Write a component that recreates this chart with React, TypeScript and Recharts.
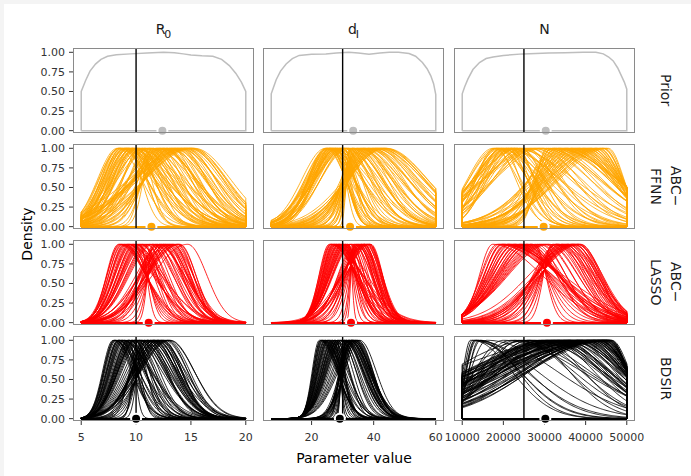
import React from 'react';
import { LineChart, Line, XAxis, YAxis, ReferenceLine, ReferenceDot } from 'recharts';

type Curve = [number, number, number]; // [mode, left spread, right spread]

const parameterNames = ['R', 'd', 'N'];
const parameterSubs = ['0', 'I', ''];
const methodLabels = [['Prior'], ['ABC−', 'FFNN'], ['ABC−', 'LASSO'], ['BDSIR']];
const methodColors = ['#bebebe', '#ffa500', '#ff0000', '#000000'];
const trueValues = [10, 30, 25000];
const parameterRanges: [number, number][] = [[5, 20], [7, 60], [10000, 50000]];
const xTickValues = [[5, 10, 15, 20], [20, 40, 60], [10000, 20000, 30000, 40000, 50000]];
const yTickValues = [0, 0.25, 0.5, 0.75, 1];

const pointPrior = [12.4, 33.4, 30300];
const pointFFNN = [11.4, 32.4, 29800];
const pointLASSO = [11.15, 32.7, 30600];
const pointBDSIR = [10.0, 29.1, 30200];

const priorR0X = [5, 5.4, 5.8, 6.3, 6.8, 7.4, 8.2, 9.5, 11, 12.5, 13.5, 14.3, 15, 16, 17, 17.8, 18.5, 19.1, 19.6, 20];
const priorR0Y = [0.5, 0.64, 0.76, 0.85, 0.91, 0.95, 0.97, 0.98, 0.99, 1.0, 0.995, 0.98, 0.965, 0.955, 0.95, 0.91, 0.83, 0.73, 0.62, 0.5];
const priorDIX = [7, 7.8, 8.6, 10, 11.8, 13.8, 16, 20, 24.6, 28, 32, 35, 38.5, 42, 45, 48, 51.4, 53.5, 55.7, 57.2, 58.4, 59.3, 60];
const priorDIY = [0.47, 0.56, 0.65, 0.76, 0.85, 0.92, 0.96, 0.975, 0.98, 0.99, 1.0, 0.99, 0.975, 0.99, 1.0, 1.0, 0.985, 0.95, 0.87, 0.79, 0.7, 0.6, 0.46];
const priorNX = [10000, 10600, 11400, 12600, 14200, 15800, 17500, 20000, 24800, 31000, 35000, 39400, 42500, 44300, 45600, 46700, 47800, 48700, 49400, 50000];
const priorNY = [0.47, 0.56, 0.66, 0.78, 0.87, 0.92, 0.94, 0.96, 0.98, 0.99, 0.995, 1.0, 1.0, 0.98, 0.94, 0.89, 0.8, 0.7, 0.62, 0.53];

const ffnnR0: Curve[] = [
  [8.3, 1.8, 2.2], [8.4, 1.6, 3.0], [8.5, 1.9, 2.5], [8.6, 1.5, 3.6], [8.7, 1.7, 2.3], [8.8, 1.95, 2.9], [8.9, 1.6, 2.1],
  [9.0, 1.8, 3.3], [9.1, 1.55, 2.6], [9.25, 1.9, 1.25], [9.3, 1.7, 2.9], [9.4, 2.0, 1.5], [9.5, 1.6, 3.5], [9.6, 1.9, 2.0],
  [9.7, 2.2, 1.3], [9.8, 1.7, 2.7], [9.9, 2.1, 1.8], [10.0, 1.9, 3.0], [10.1, 2.3, 1.6], [10.2, 2.0, 2.4], [10.3, 2.4, 1.1],
  [8.55, 1.75, 4.0], [9.15, 2.05, 4.2], [9.65, 1.8, 3.9],
  [11.2, 0.8, 2.4], [11.45, 0.79, 2.9], [11.6, 1.4, 2.2], [11.8, 1.2, 3.1], [12.0, 2.2, 2.6], [12.2, 1.6, 2.0], [12.4, 2.6, 3.0],
  [12.5, 1.8, 2.5], [12.7, 3.0, 2.8], [12.8, 2.1, 2.2], [13.0, 3.4, 3.2], [13.1, 2.3, 2.6], [13.3, 2.6, 3.3], [13.4, 3.6, 2.4],
  [13.6, 2.8, 2.9], [13.7, 4.0, 3.1], [13.9, 3.1, 2.5], [14.0, 4.2, 3.3], [14.2, 3.4, 2.7], [14.3, 4.5, 3.0], [14.5, 3.7, 3.2],
  [14.6, 4.6, 2.6], [14.8, 3.9, 3.1], [14.9, 5.0, 3.3], [15.0, 4.2, 2.9], [15.1, 4.8, 3.2], [15.3, 4.5, 3.3], [13.2, 2.5, 2.1],
  [12.1, 1.9, 3.4], [14.1, 3.3, 2.3],
  [10.4, 1.6, 2.0], [10.5, 2.2, 2.8], [10.6, 1.9, 1.6], [10.7, 2.6, 3.2], [10.8, 2.0, 2.4], [10.9, 2.9, 1.9], [11.0, 1.7, 3.5],
  [11.1, 2.4, 2.2], [11.3, 3.0, 2.7], [11.4, 2.1, 3.8], [8.9, 1.9, 3.8], [9.35, 2.1, 3.4], [9.75, 2.3, 4.4], [10.15, 2.5, 3.6],
  [11.9, 2.6, 3.6], [12.3, 3.1, 3.1], [12.6, 3.3, 2.7], [12.9, 2.9, 3.4], [13.5, 4.1, 2.8], [14.4, 4.4, 2.9], [15.2, 5.2, 3.0],
  [14.7, 5.3, 3.3], [13.8, 3.8, 3.6], [8.45, 1.8, 3.3], [9.05, 2.1, 2.9],
];
const ffnnDI: Curve[] = [
  [24.5, 7.6, 6.5], [24.8, 6.0, 9.0], [25.1, 7.2, 5.8], [25.4, 6.4, 8.0], [25.7, 7.8, 6.0], [26.0, 6.8, 5.0], [26.3, 8.0, 7.5],
  [26.6, 7.0, 4.5], [26.9, 8.3, 6.8], [27.2, 7.4, 4.0], [27.5, 8.5, 5.5], [27.8, 7.6, 3.6], [28.1, 8.7, 6.0], [28.4, 7.9, 3.3],
  [28.6, 8.2, 2.45], [28.9, 8.9, 4.8], [29.2, 8.0, 3.0], [29.5, 9.0, 5.2], [29.8, 8.4, 2.8], [30.1, 9.2, 4.0], [30.4, 8.6, 3.4],
  [25.9, 5.8, 10.0], [27.6, 6.6, 9.0],
  [32.2, 1.0, 8.0], [32.6, 1.6, 10.0], [33.0, 2.2, 7.5], [33.4, 1.9, 11.0], [33.8, 3.0, 9.0], [34.2, 2.7, 12.0], [34.8, 3.18, 8.5],
  [35.2, 4.5, 10.5], [35.7, 4.0, 13.0], [36.2, 5.6, 9.5], [36.7, 5.0, 12.0], [37.2, 6.5, 10.0], [37.7, 5.9, 13.5], [38.2, 7.3, 11.0],
  [38.7, 6.8, 14.0], [39.2, 8.2, 12.0], [39.7, 7.7, 10.0], [40.2, 9.0, 13.0], [40.7, 8.6, 11.5], [41.2, 10.0, 12.5], [41.7, 9.5, 14.0],
  [42.2, 10.8, 12.0], [42.8, 10.5, 13.5], [43.4, 11.5, 13.8], [44.0, 12.5, 13.3], [36.5, 7.0, 8.0],
  [30.6, 9.5, 6.0], [30.9, 8.0, 8.5], [31.2, 10.0, 5.0], [31.5, 8.6, 9.5], [31.8, 10.5, 7.0], [32.0, 9.0, 11.0],
  [29.0, 9.8, 7.5], [29.9, 10.2, 9.0], [30.3, 8.2, 11.5], [33.2, 2.8, 12.5], [34.5, 4.0, 13.5], [35.5, 5.5, 11.0],
  [36.9, 6.5, 14.0], [38.4, 8.0, 12.5], [39.9, 9.3, 14.5], [41.0, 10.0, 14.8], [42.5, 11.5, 14.0], [43.7, 13.0, 12.5],
  [25.3, 6.0, 11.0], [26.2, 5.5, 12.5], [27.0, 6.2, 10.5], [28.0, 7.0, 12.0], [24.7, 5.8, 7.5], [33.0, 3.4, 9.5],
];
const ffnnN: Curve[] = [
  [17500, 6200, 6000], [17800, 4500, 9000], [18100, 6500, 4900], [18400, 5000, 7500], [18700, 7000, 5500], [19000, 4200, 10000],
  [19300, 6800, 6500], [19600, 5500, 8000], [19970, 7000, 4030], [20300, 4800, 9500], [20600, 8000, 5200], [20900, 6000, 7000],
  [21200, 8600, 4600], [21500, 5500, 11000], [21800, 9200, 6000], [22100, 7000, 4200], [22400, 9800, 7500], [22700, 6500, 5000],
  [23000, 10000, 9000], [23400, 8000, 4000], [23800, 10500, 6500], [24200, 7500, 5500], [24600, 11500, 8000],
  [30500, 2500, 13000], [31000, 3200, 11000], [31500, 3100, 14500], [32000, 4500, 12000], [32500, 3700, 15000], [33000, 5500, 12500],
  [33450, 4290, 13500], [34000, 6000, 11500], [34500, 5000, 13000], [35000, 7000, 12000], [35500, 5800, 10500], [36000, 7800, 11500],
  [36500, 6500, 9500], [37000, 8500, 11000], [37500, 7000, 9000], [38000, 9200, 10000], [38500, 7500, 8000], [39000, 9800, 9300],
  [39500, 8200, 7500], [40000, 10500, 8500], [40500, 8800, 7000], [41000, 11000, 7600], [41500, 9300, 6200], [42000, 11500, 6800],
  [42500, 9800, 5500], [43000, 12000, 5900], [43500, 10500, 4800], [44000, 12500, 5000], [44500, 11200, 4300], [45000, 12800, 4200],
  [45500, 11800, 3800],
  [25000, 9000, 9000], [25500, 10500, 7000], [26000, 8500, 11000], [26500, 11000, 8000], [27000, 9500, 12000], [27500, 12500, 9500],
  [28000, 10000, 13000], [28500, 13500, 10000], [29000, 11500, 14000], [29500, 14000, 11500], [30000, 12000, 13500],
  [18500, 5500, 12000], [19800, 6500, 14000], [21000, 7500, 12500], [22200, 8000, 15000], [23200, 9000, 13000], [32300, 6000, 15500],
  [33700, 7500, 13000], [35200, 9000, 12500], [36800, 10500, 11200], [38300, 11500, 9900], [39800, 12200, 8700], [41200, 12800, 7400],
  [42700, 13000, 6200], [44200, 13500, 4900],
];
const lassoR0: Curve[] = [
  [8.4, 1.1, 2.5], [8.6, 1.25, 2.3], [8.8, 1.3, 2.8], [9.0, 1.35, 1.9], [9.2, 1.45, 2.5], [9.4, 1.4, 1.6], [9.6, 1.55, 2.2],
  [9.8, 1.5, 1.2], [10.0, 1.7, 1.9], [10.2, 1.65, 0.9], [10.4, 1.8, 0.58], [10.6, 1.9, 1.3], [8.5, 1.15, 3.0], [9.1, 1.4, 3.2],
  [9.7, 1.6, 2.8], [10.3, 1.75, 2.2], [8.9, 1.2, 2.0], [9.5, 1.5, 1.45],
  [11.5, 0.45, 1.9], [11.7, 0.65, 2.1], [11.9, 1.3, 1.8], [12.1, 1.0, 2.2], [12.3, 1.6, 1.9], [12.5, 1.4, 1.7], [12.7, 2.0, 2.0],
  [12.9, 1.8, 1.75], [13.1, 2.3, 1.85], [13.3, 2.2, 1.6], [13.5, 2.6, 1.7], [13.7, 2.6, 1.5], [13.9, 2.9, 1.55], [14.0, 2.85, 1.45],
  [12.0, 1.6, 2.4], [12.6, 2.3, 2.1], [13.2, 2.8, 2.0], [11.8, 1.5, 2.6], [14.7, 3.2, 1.75],
  [10.7, 1.9, 1.4], [10.85, 2.0, 1.9], [11.0, 1.95, 1.6], [11.15, 2.05, 2.2], [11.3, 2.1, 1.7], [11.45, 2.15, 2.1],
  [8.7, 1.2, 2.2], [9.3, 1.4, 2.6], [9.9, 1.6, 2.4], [10.1, 1.7, 1.5], [10.5, 1.85, 1.7], [12.2, 2.0, 1.9], [12.8, 2.3, 1.6],
  [13.4, 2.5, 1.55], [13.0, 2.7, 1.8], [12.4, 2.4, 2.2], [11.6, 2.2, 2.4], [13.8, 2.9, 1.45],
];
const lassoDI: Curve[] = [
  [25.7, 3.3, 9.2], [26.1, 3.6, 10.5], [26.5, 3.7, 8.2], [26.9, 3.9, 9.5], [27.3, 4.1, 7.2], [27.7, 4.2, 8.8], [28.1, 4.4, 6.1],
  [28.5, 4.5, 7.5], [28.9, 4.7, 5.0], [29.3, 4.9, 6.0], [29.7, 5.0, 4.0], [30.1, 5.2, 5.2], [30.5, 5.3, 2.9], [30.9, 5.5, 3.5],
  [31.3, 5.6, 1.9], [31.7, 5.8, 2.5], [32.1, 6.0, 0.88], [27.0, 3.5, 7.0], [29.0, 4.3, 9.0],
  [33.35, 0.71, 6.0], [33.7, 1.2, 5.4], [34.1, 1.7, 6.2], [34.5, 3.5, 5.2], [34.9, 2.7, 5.9], [35.3, 4.6, 5.0], [35.7, 3.8, 5.6],
  [36.1, 5.8, 4.8], [36.5, 4.8, 5.3], [36.9, 6.8, 4.6], [37.3, 5.8, 5.0], [37.7, 8.0, 4.4], [38.1, 6.9, 4.7], [38.5, 9.0, 4.2],
  [38.8, 7.8, 4.0], [39.1, 8.1, 3.8], [35.0, 4.5, 4.4], [37.0, 7.0, 4.0],
  [32.3, 5.8, 3.9], [32.6, 5.9, 4.4], [32.9, 6.1, 4.1], [33.2, 6.2, 4.6],
  [26.3, 3.5, 7.8], [27.5, 4.0, 6.5], [28.7, 4.4, 5.6], [29.9, 4.8, 4.9], [31.0, 5.3, 4.4], [31.6, 5.6, 3.6], [34.0, 5.5, 4.3],
  [34.7, 6.0, 5.1], [35.5, 6.5, 4.2], [36.3, 7.0, 4.9], [37.1, 7.5, 3.9], [37.9, 8.2, 4.5], [38.6, 8.6, 3.7], [36.0, 5.6, 4.5],
  [30.3, 4.9, 6.8], [28.0, 4.1, 8.0],
];
const lassoN: Curve[] = [
  [17400, 3200, 12000], [18500, 4000, 13500], [19000, 4300, 12800], [19500, 4100, 15000], [20000, 4700, 11500], [20500, 4500, 13000],
  [21000, 5200, 10300], [21500, 5000, 12500], [22000, 5700, 9200], [22500, 5400, 11000], [23000, 6100, 8000], [23500, 5900, 10000],
  [24000, 6600, 6900], [24500, 6300, 9000], [25000, 7000, 5700], [25500, 6700, 7500], [26000, 7500, 4600], [26500, 7200, 6500],
  [27000, 8000, 3400], [27700, 8300, 2613],
  [31840, 2090, 7000], [32200, 3200, 8000], [32600, 2950, 6500], [33000, 4500, 7800], [33400, 3850, 6200], [33800, 5500, 7500],
  [34200, 4800, 6000], [34600, 6500, 7200], [35000, 5700, 5800], [35400, 7500, 6900], [35800, 6600, 5600], [36200, 8300, 6600],
  [36600, 7500, 5400], [37000, 9000, 6300], [37400, 8400, 5200], [37800, 9800, 6000], [38200, 9300, 5000], [38500, 10500, 5500],
  [38800, 10000, 4800],
  [28200, 8500, 5500], [28700, 8800, 6500], [29200, 9000, 6000], [29700, 9300, 7000], [30200, 9500, 6600], [30700, 9800, 7400],
  [31200, 10000, 7000], [19800, 4600, 14000], [21200, 5300, 12000], [22700, 6000, 10500], [24200, 6800, 9500], [25700, 7400, 8000],
  [26800, 8000, 7500], [33200, 6000, 7900], [34400, 7000, 7600], [35600, 8000, 7300], [36800, 9000, 6700], [38000, 10500, 6100],
  [32900, 5000, 6800], [37200, 11000, 5800],
];
const bdsirR0: Curve[] = [
  [7.9, 0.95, 1.7], [8.05, 1.0, 2.2], [8.2, 1.05, 1.6], [8.35, 1.1, 2.4], [8.5, 1.15, 1.5], [8.65, 1.15, 2.0], [8.8, 1.2, 1.2],
  [8.95, 1.25, 1.9], [9.1, 1.3, 1.0], [9.25, 1.35, 1.6], [9.42, 1.4, 0.49], [9.55, 1.45, 1.3], [9.7, 1.5, 0.7], [9.85, 1.55, 1.5],
  [8.1, 1.0, 1.6], [8.75, 1.2, 2.6], [9.3, 1.3, 2.2], [9.95, 1.6, 1.0], [8.45, 1.1, 1.85],
  [10.15, 0.45, 2.4], [10.3, 0.9, 2.6], [10.45, 0.6, 2.3], [10.58, 0.49, 2.5], [10.75, 1.2, 2.3], [10.9, 0.8, 2.4], [11.05, 1.5, 2.2],
  [11.2, 1.05, 2.35], [11.35, 1.8, 2.1], [11.5, 1.3, 2.2], [11.65, 2.0, 2.0], [11.8, 1.55, 2.1], [11.95, 2.2, 1.95], [12.1, 1.8, 2.0],
  [12.25, 2.4, 1.85], [12.4, 2.05, 1.8], [12.6, 2.5, 2.1], [12.9, 2.5, 2.0], [13.1, 2.65, 2.2], [11.0, 1.4, 2.8], [11.6, 2.0, 2.6],
  [12.0, 2.2, 2.5],
  [9.9, 1.6, 1.3], [10.0, 1.65, 1.9], [10.1, 1.7, 1.6], [10.2, 1.7, 2.4], [10.35, 1.75, 1.8], [10.5, 1.8, 2.2],
  [8.0, 0.98, 2.0], [8.4, 1.1, 1.7], [8.9, 1.25, 2.3], [9.35, 1.4, 1.9], [9.6, 1.5, 2.1], [10.8, 1.9, 2.0], [11.1, 2.0, 1.8],
  [11.4, 2.1, 2.3], [11.7, 2.2, 1.9], [12.0, 2.3, 1.85], [12.3, 2.4, 2.1], [12.5, 2.45, 1.7], [12.8, 2.6, 1.9], [13.0, 2.7, 2.3],
  [8.6, 1.15, 2.8], [9.75, 1.55, 2.6],
];
const bdsirDI: Curve[] = [
  [22.5, 2.3, 5.5], [22.9, 2.45, 5.4], [23.3, 2.6, 5.0], [23.7, 2.75, 4.8], [24.1, 2.9, 4.6], [24.5, 3.0, 4.2], [24.9, 3.15, 4.4],
  [25.3, 3.3, 3.5], [25.7, 3.45, 4.0], [26.1, 3.6, 2.8], [26.5, 3.75, 3.6], [26.9, 3.9, 2.2], [27.3, 4.0, 3.3], [27.5, 4.1, 1.6],
  [27.9, 4.25, 2.6], [28.3, 4.4, 1.0], [28.7, 4.55, 2.0], [23.5, 2.6, 6.5], [25.0, 3.2, 5.8],
  [30.2, 0.7, 6.3], [30.5, 1.6, 5.6], [30.8, 1.1, 6.0], [31.1, 2.0, 5.3], [31.4, 1.6, 6.2], [31.7, 2.5, 5.5], [32.0, 2.1, 6.4],
  [32.3, 3.0, 5.2], [32.6, 2.6, 5.9], [32.9, 3.4, 5.0], [33.2, 3.1, 5.7], [33.5, 3.9, 4.8], [33.8, 3.5, 5.5], [34.1, 4.3, 4.7],
  [34.4, 3.9, 5.2], [34.8, 4.6, 4.9], [35.5, 4.8, 5.3], [31.0, 1.27, 6.6], [33.0, 3.6, 6.2],
  [28.9, 4.6, 4.4], [29.2, 4.7, 5.2], [29.5, 4.8, 4.8], [29.8, 4.9, 5.6], [30.0, 5.0, 5.0],
  [23.0, 2.5, 6.0], [24.3, 2.95, 5.5], [25.5, 3.4, 6.0], [26.7, 3.8, 5.2], [27.7, 4.2, 4.6], [28.4, 4.4, 3.8], [30.6, 5.2, 6.0],
  [31.3, 5.4, 5.5], [32.1, 5.6, 5.8], [32.8, 5.8, 5.2], [33.6, 6.0, 5.4], [34.3, 6.2, 5.0], [35.0, 6.4, 4.8], [31.9, 3.0, 6.8],
  [33.1, 4.0, 6.0],
];
const bdsirN: Curve[] = [
  [12500, 2000, 9500], [13000, 2200, 11000], [13500, 2500, 10500], [12000, 1800, 13500], [14000, 2400, 12000],
  [20000, 7000, 19000], [16000, 4000, 17000],
  [24000, 8000, 12000], [26000, 9000, 10000], [28000, 12000, 15000], [29000, 11000, 10500], [30000, 14000, 14000],
  [31000, 13000, 11000], [32000, 13000, 13500], [33000, 14000, 11500], [33500, 18000, 12000], [34000, 15000, 14000],
  [35000, 20000, 11000], [36000, 17000, 12500], [37000, 22000, 10000], [38000, 16000, 11500], [38500, 25000, 9500],
  [39000, 19000, 11000], [40000, 15400, 9000], [40500, 24000, 8500], [41000, 21000, 9000], [42000, 27000, 8000],
  [42500, 18000, 7800], [43000, 23000, 7200], [43500, 30000, 6500], [43840, 17355, 6000], [44000, 20000, 6000],
  [44500, 26000, 5500], [45000, 22000, 5000], [45500, 28000, 4500], [46000, 24000, 4200], [25000, 11000, 16000],
  [27000, 20000, 17000], [22000, 9000, 18000], [36500, 30000, 13000], [41500, 16500, 9500], [39500, 28000, 12000],
  [30500, 16000, 13000], [31500, 20000, 12500], [32500, 17000, 11000], [34500, 24000, 10500], [35500, 15500, 13500],
  [37500, 26000, 11500], [38800, 21000, 10500], [40800, 18000, 10000], [41800, 25000, 8800], [42800, 16500, 8000],
  [43200, 28000, 7000], [44200, 23000, 6800], [44800, 19000, 5600], [45300, 25000, 5200], [45800, 21000, 4700],
  [46300, 27000, 4400],
  [33000, 21000, 12800], [35800, 25000, 11800], [37800, 19500, 10800], [39200, 23000, 9800], [40200, 27000, 9300],
  [41300, 19000, 8200], [42300, 22000, 7500], [43300, 25500, 6900], [44300, 18500, 5800], [45100, 27500, 5300],
  [45700, 23500, 4500], [46200, 20000, 4000], [29500, 15000, 16000], [31700, 18500, 14500], [34200, 21500, 13200],
  [36300, 23500, 12200], [14500, 3000, 9000], [13200, 2300, 15000], [23000, 8500, 14000], [26500, 10500, 12500],
];

const PANEL_W = 181;
const PANEL_H = 85;
const colLeft = [73, 263, 454];
const rowTop = [48, 144, 240, 336];
const yDomain: [number, number] = [-0.03, 1.055];
const FONT = '"DejaVu Sans", sans-serif';

type Pt = { x: number; y: number };

function xDomain(col: number): [number, number] {
  const [a, b] = parameterRanges[col];
  const pad = (b - a) * 0.05;
  return [a - pad, b + pad];
}

function bellValue(p: Curve, x: number) {
  const [c, sl, sr] = p;
  const s = x < c ? sl : sr;
  const z = (x - c) / s;
  return Math.exp(-0.5 * z * z);
}

function curveOutline(p: Curve, col: number): Pt[] {
  const [lo, hi] = parameterRanges[col];
  const xs: number[] = [];
  const n = 150;
  for (let i = 0; i <= n; i++) xs.push(lo + ((hi - lo) * i) / n);
  if (p[0] > lo && p[0] < hi) xs.push(p[0]);
  xs.sort((a, b) => a - b);
  return [{ x: lo, y: 0 }, ...xs.map((x) => ({ x, y: bellValue(p, x) })), { x: hi, y: 0 }, { x: lo, y: 0 }];
}

function priorOutline(xs: number[], ys: number[]): Pt[] {
  return [{ x: xs[0], y: 0 }, ...xs.map((x, i) => ({ x, y: ys[i] })), { x: xs[xs.length - 1], y: 0 }, { x: xs[0], y: 0 }];
}

const priorSeries: Pt[][][] = [
  [priorOutline(priorR0X, priorR0Y)],
  [priorOutline(priorDIX, priorDIY)],
  [priorOutline(priorNX, priorNY)],
];
const curveSets: Curve[][][] = [
  [ffnnR0, ffnnDI, ffnnN],
  [lassoR0, lassoDI, lassoN],
  [bdsirR0, bdsirDI, bdsirN],
];
const pointSets = [pointPrior, pointFFNN, pointLASSO, pointBDSIR];

function seriesFor(row: number, col: number): Pt[][] {
  if (row === 0) return priorSeries[col];
  return curveSets[row - 1][col].map((p) => curveOutline(p, col));
}

function Panel({ row, col }: { row: number; col: number }) {
  const showY = col === 0;
  const showX = row === 3;
  const yW = showY ? 50 : 0;
  const xH = showX ? 26 : 0;
  const leftPad = 20;
  const rightPad = 30;
  const topPad = 8;
  const bottomPad = showX ? 0 : 8;
  const color = methodColors[row];
  const series = seriesFor(row, col);
  return (
    <div style={{ position: 'absolute', left: colLeft[col] - yW - leftPad, top: rowTop[row] - topPad }}>
      <LineChart
        width={leftPad + yW + PANEL_W + rightPad}
        height={topPad + PANEL_H + xH + bottomPad}
        margin={{ top: topPad, right: rightPad, bottom: bottomPad, left: leftPad }}
      >
        <XAxis
          type="number"
          dataKey="x"
          domain={xDomain(col)}
          allowDataOverflow
          ticks={xTickValues[col]}
          interval={0}
          hide={!showX}
          height={xH}
          axisLine={false}
          tickSize={4}
          tickMargin={8}
          stroke="#333"
          tick={{ fill: '#333', fontSize: 11, fontFamily: FONT }}
        />
        <YAxis
          type="number"
          domain={yDomain}
          allowDataOverflow
          ticks={yTickValues}
          interval={0}
          hide={!showY}
          width={yW}
          axisLine={false}
          tickSize={4}
          tickMargin={4}
          stroke="#333"
          tickFormatter={(v: number) => v.toFixed(2)}
          tick={{ fill: '#333', fontSize: 11, fontFamily: FONT }}
        />
        {series.map((d, i) => (
          <Line
            key={i}
            data={d}
            dataKey="y"
            type="linear"
            stroke={color}
            strokeWidth={row === 0 ? 1.5 : 0.85}
            dot={false}
            activeDot={false}
            isAnimationActive={false}
          />
        ))}
        <ReferenceLine x={trueValues[col]} stroke="#000" strokeWidth={1.4} />
        <ReferenceDot x={pointSets[row][col]} y={0} r={5} fill={color} stroke="#fff" strokeWidth={2} />
      </LineChart>
    </div>
  );
}

export default function App() {
  const rows = [0, 1, 2, 3];
  const cols = [0, 1, 2];
  return (
    <div style={{ position: 'absolute', left: 0, top: 0, width: 691, height: 476, background: '#f4f4f4', fontFamily: FONT }}>
      <div style={{ position: 'absolute', left: 4, top: 4, width: 687, height: 472, background: '#fff' }} />
      {rows.map((r) => cols.map((c) => <Panel key={`${r}-${c}`} row={r} col={c} />))}
      {rows.map((r) =>
        cols.map((c) => (
          <div
            key={`f${r}-${c}`}
            style={{
              position: 'absolute',
              left: colLeft[c],
              top: rowTop[r],
              width: PANEL_W,
              height: PANEL_H,
              border: '1px solid #8a8a8a',
              boxSizing: 'border-box',
              pointerEvents: 'none',
            }}
          />
        ))
      )}
      {cols.map((c) => (
        <div
          key={`h${c}`}
          style={{ position: 'absolute', left: colLeft[c], top: 20, width: PANEL_W, textAlign: 'center', fontSize: 14, lineHeight: '18px', color: '#1a1a1a' }}
        >
          {parameterNames[c]}
          {parameterSubs[c] && (
            <span style={{ fontSize: 11, position: 'relative', top: 4, marginLeft: -1 }}>{parameterSubs[c]}</span>
          )}
        </div>
      ))}
      {rows.map((r) => (
        <div
          key={`r${r}`}
          style={{ position: 'absolute', left: 628, top: rowTop[r], width: 60, height: PANEL_H, display: 'flex', alignItems: 'center', justifyContent: 'center' }}
        >
          <div style={{ writingMode: 'vertical-rl', fontSize: 14, lineHeight: '20px', textAlign: 'center', color: '#1a1a1a', position: 'relative', left: 8 }}>
            {methodLabels[r].map((t, i) => (
              <React.Fragment key={i}>
                {i > 0 && <br />}
                {t}
              </React.Fragment>
            ))}
          </div>
        </div>
      ))}
      <div style={{ position: 'absolute', left: 27 - 40, top: 234 - 10, width: 80, height: 20, lineHeight: '20px', textAlign: 'center', fontSize: 14, transform: 'rotate(-90deg)', color: '#000' }}>
        Density
      </div>
      <div style={{ position: 'absolute', left: 354 - 80, top: 458 - 10, width: 160, height: 20, lineHeight: '20px', textAlign: 'center', fontSize: 14, color: '#000' }}>
        Parameter value
      </div>
    </div>
  );
}
